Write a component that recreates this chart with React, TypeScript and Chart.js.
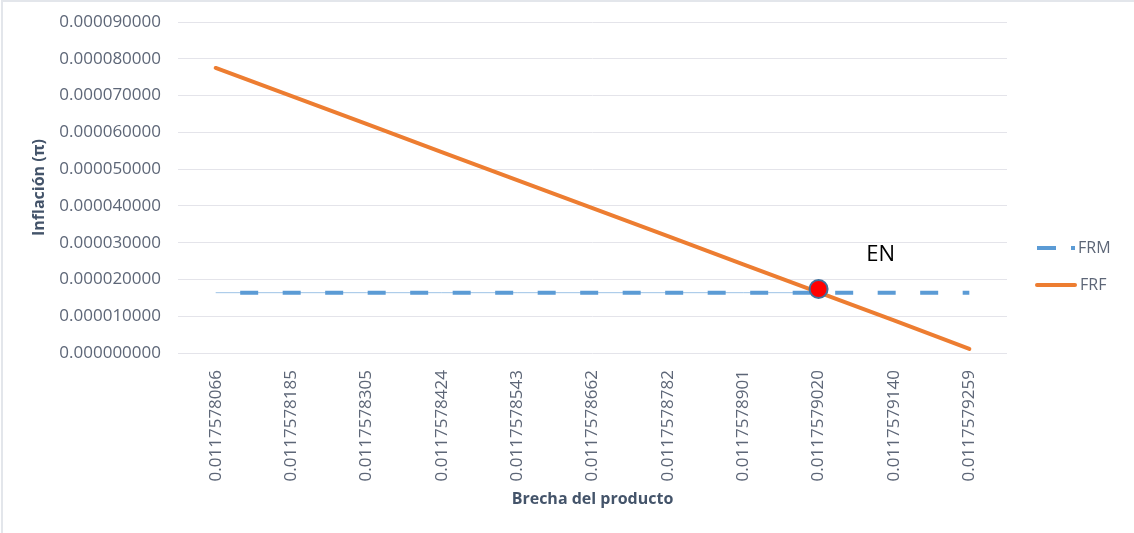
import React, { useEffect, useRef } from 'react';
import { Chart, registerables } from 'chart.js';

Chart.register(...registerables);

const categories = [
  '0.0117578066',
  '0.0117578185',
  '0.0117578305',
  '0.0117578424',
  '0.0117578543',
  '0.0117578662',
  '0.0117578782',
  '0.0117578901',
  '0.0117579020',
  '0.0117579140',
  '0.0117579259',
];

const frmValues = [
  1.64e-5, 1.64e-5, 1.64e-5, 1.64e-5, 1.64e-5, 1.64e-5, 1.64e-5, 1.64e-5, 1.64e-5, 1.64e-5, 1.64e-5,
];

const frfValues = [
  7.75e-5, 6.99e-5, 6.23e-5, 5.46e-5, 4.70e-5, 3.94e-5, 3.18e-5, 2.41e-5, 1.65e-5, 0.89e-5, 0.11e-5,
];

const enIndex = 8;
const enValue = 1.74e-5;
const enLabel = 'EN';

const yMin = 0;
const yMax = 9e-5;
const yStep = 1e-5;

const seriesNames = ['FRM', 'FRF'];
const xTitle = 'Brecha del producto';
const yTitle = 'Inflación (π)';

const BLUE = '#5b9bd5';
const ORANGE = '#ed7d31';
const TICK_COLOR = '#5d6677';
const TITLE_COLOR = '#44546a';
const FONT = '"Open Sans", "Noto Sans", sans-serif';

const enData = categories.map((_, i) => (i === enIndex ? enValue : null));
const frmThin = frmValues.map((v, i) => (i <= enIndex ? v : null));

const overlayPlugin = {
  id: 'overlay',
  afterDraw(chart: any) {
    const ctx = chart.ctx;
    const meta = chart.getDatasetMeta(0);
    const pt = meta.data[enIndex];
    if (pt) {
      ctx.save();
      ctx.font = `22px ${FONT}`;
      ctx.fillStyle = '#000000';
      ctx.textAlign = 'center';
      ctx.textBaseline = 'middle';
      ctx.fillText(enLabel, pt.x + 62, pt.y - 34);
      ctx.restore();
    }
    const area = chart.chartArea;
    const lx = area.right + 30;
    const ly1 = area.top + 226;
    const ly2 = ly1 + 37;
    ctx.save();
    ctx.lineCap = 'butt';
    ctx.strokeStyle = BLUE;
    ctx.lineWidth = 4;
    ctx.setLineDash([19, 15]);
    ctx.beginPath();
    ctx.moveTo(lx, ly1);
    ctx.lineTo(lx + 38, ly1);
    ctx.stroke();
    ctx.setLineDash([]);
    ctx.strokeStyle = ORANGE;
    ctx.lineCap = 'round';
    ctx.beginPath();
    ctx.moveTo(lx, ly2);
    ctx.lineTo(lx + 38, ly2);
    ctx.stroke();
    ctx.font = `16px ${FONT}`;
    ctx.fillStyle = TICK_COLOR;
    ctx.textAlign = 'left';
    ctx.textBaseline = 'middle';
    ctx.fillText(seriesNames[0], lx + 41, ly1);
    ctx.fillText(seriesNames[1], lx + 43, ly2);
    ctx.restore();
  },
};

export default function App() {
  const canvasRef = useRef<HTMLCanvasElement | null>(null);

  useEffect(() => {
    if (!canvasRef.current) return;
    const chart = new Chart(canvasRef.current, {
      type: 'line',
      data: {
        labels: categories,
        datasets: [
          {
            label: 'EN',
            data: enData,
            showLine: false,
            pointRadius: 9,
            pointHoverRadius: 9,
            pointBackgroundColor: '#ff0000',
            pointBorderColor: '#41719c',
            pointBorderWidth: 2,
            order: 0,
          },
          {
            label: seriesNames[1],
            data: frfValues,
            borderColor: ORANGE,
            borderWidth: 4,
            borderCapStyle: 'round',
            pointRadius: 0,
            tension: 0,
            order: 1,
          },
          {
            label: seriesNames[0],
            data: frmValues,
            borderColor: BLUE,
            borderWidth: 4,
            borderDash: [18, 24.5],
            borderDashOffset: 18,
            pointRadius: 0,
            tension: 0,
            order: 2,
          },
          {
            label: 'FRM-thin',
            data: frmThin,
            borderColor: '#9dc3e6',
            borderWidth: 1,
            pointRadius: 0,
            tension: 0,
            order: 3,
          },
        ],
      },
      options: {
        responsive: false,
        animation: false,
        layout: { padding: { left: 0, right: 127, top: 22, bottom: 0 } },
        plugins: {
          legend: { display: false },
          tooltip: { enabled: false },
          title: { display: false },
        },
        scales: {
          x: {
            type: 'category',
            offset: true,
            grid: { display: false, drawTicks: false },
            border: { display: false },
            ticks: {
              color: TICK_COLOR,
              font: { family: FONT, size: 17 },
              minRotation: 90,
              maxRotation: 90,
              autoSkip: false,
              padding: 17,
            },
            title: {
              display: true,
              text: xTitle,
              color: TITLE_COLOR,
              font: { family: FONT, size: 16, weight: 'bold' },
              padding: { top: 0, bottom: 24 },
            },
            afterFit: (s: any) => {
              s.height = 180;
              s.paddingLeft = 0;
              s.paddingRight = 0;
            },
          },
          y: {
            min: yMin,
            max: yMax,
            grid: { color: '#e4e4ea', lineWidth: 1, drawTicks: false },
            border: { display: false },
            ticks: {
              stepSize: yStep,
              color: TICK_COLOR,
              font: { family: FONT, size: 17 },
              padding: 17,
              callback: (v: any) => Number(v).toFixed(9),
            },
            title: {
              display: true,
              text: yTitle,
              color: TITLE_COLOR,
              font: { family: FONT, size: 16, weight: 'bold' },
              padding: { top: 30, bottom: 0 },
            },
            afterFit: (s: any) => {
              s.width = 178;
              s.paddingTop = 0;
              s.paddingBottom = 0;
            },
          },
        },
      },
      plugins: [overlayPlugin],
    } as any);
    return () => chart.destroy();
  }, []);

  return (
    <div style={{ position: 'absolute', left: 0, top: 0, width: 1134, height: 533, background: '#ffffff' }}>
      <canvas ref={canvasRef} width={1134} height={533} style={{ display: 'block' }} />
      <div
        style={{
          position: 'absolute',
          left: 1,
          top: 0,
          width: 1133,
          height: 533,
          borderLeft: '2px solid #e3e6eb',
          borderTop: '2px solid #e3e6eb',
          boxSizing: 'border-box',
          pointerEvents: 'none',
        }}
      />
    </div>
  );
}
